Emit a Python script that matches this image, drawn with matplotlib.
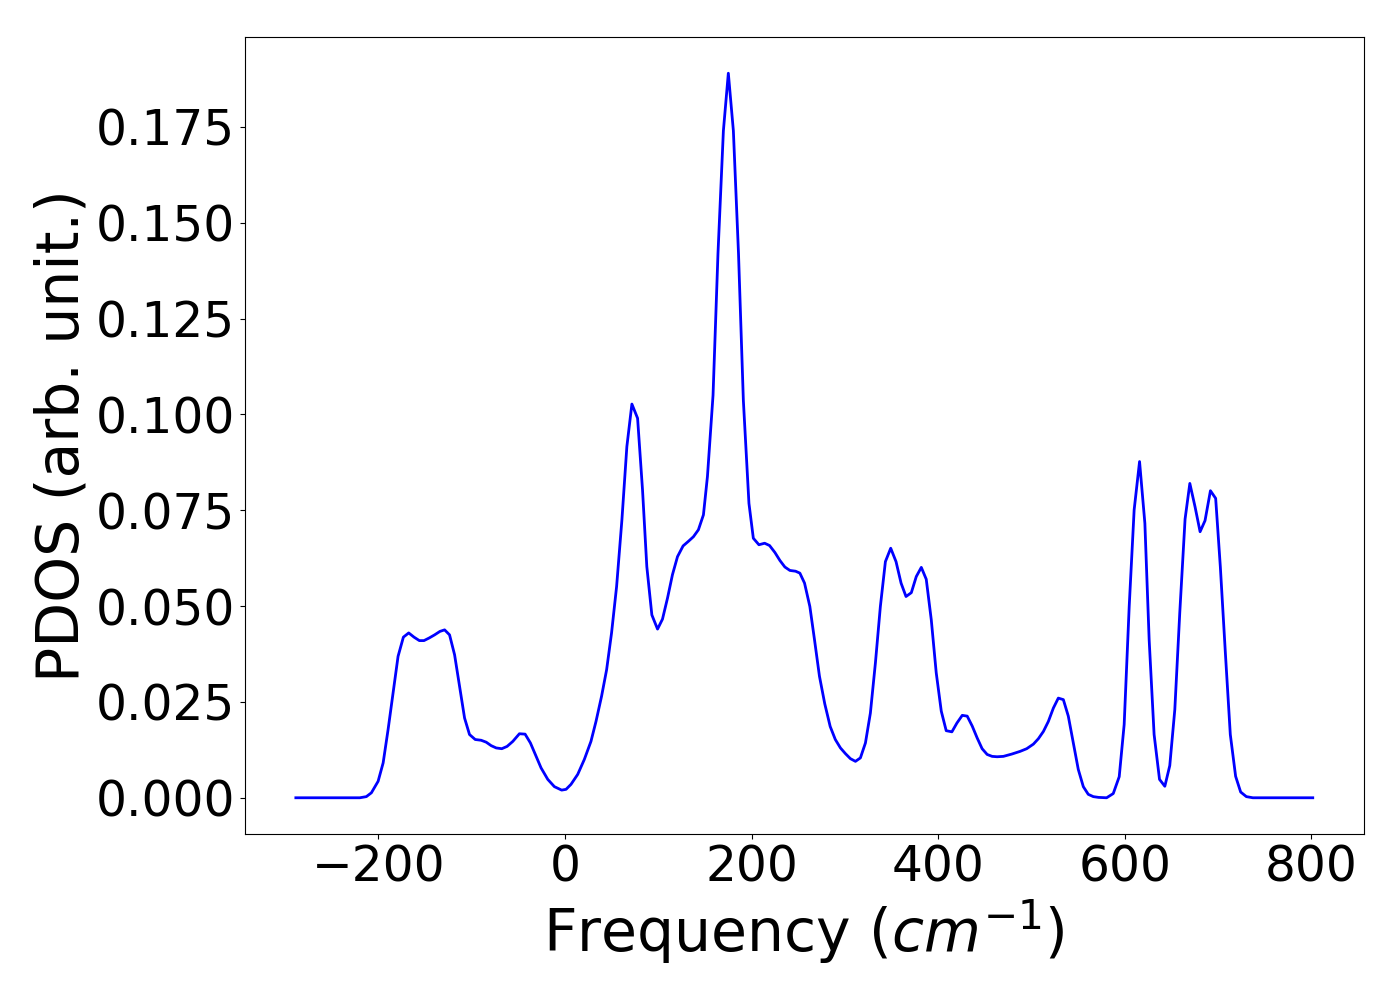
import matplotlib
matplotlib.use('Agg')
import matplotlib.pyplot as plt
from matplotlib.ticker import MultipleLocator, FormatStrFormatter

freq = [-288.6, -220.0, -213.0, -207.6, -200.4, -195.0, -189.7, -184.4, -179.0, -173.3,
        -167.6, -161.9, -156.2, -151.2, -145.5, -139.8, -134.1, -129.1, -123.8, -118.4,
        -113.1, -107.7, -102.4, -96.3, -89.9, -84.5, -79.2, -73.8, -67.8, -62.1,
        -56.0, -48.9, -42.8, -37.1, -31.0, -25.7, -18.5, -11.4, -3.6, 1.1,
        6.4, 13.6, 20.7, 27.8, 33.2, 39.2, 44.6, 49.9, 55.3, 61.0,
        66.3, 71.7, 77.8, 83.1, 87.7, 93.1, 99.2, 104.5, 109.9, 115.2,
        120.6, 126.6, 132.3, 137.7, 143.0, 148.4, 152.7, 158.7, 164.0, 169.8,
        175.1, 180.5, 186.0, 191.2, 197.2, 201.9, 207.9, 214.0, 219.3, 225.0,
        230.4, 235.7, 241.1, 247.2, 251.8, 256.8, 262.5, 267.5, 272.8, 278.5,
        284.3, 289.8, 295.3, 300.7, 306.0, 311.4, 316.7, 322.1, 327.4, 332.8,
        338.1, 343.5, 349.2, 354.9, 360.3, 365.6, 371.3, 376.6, 382.0, 387.3,
        392.7, 398.0, 403.4, 408.7, 414.8, 420.2, 425.9, 431.2, 436.6, 441.9,
        447.2, 452.6, 457.9, 463.3, 470.0, 479.0, 487.9, 495.0, 502.2, 507.5,
        512.9, 518.2, 523.6, 528.9, 534.3, 539.6, 545.0, 550.3, 555.7, 561.0,
        566.4, 572.0, 580.7, 587.8, 594.2, 599.5, 604.9, 610.2, 616.0, 621.7,
        626.3, 631.6, 637.4, 643.1, 648.4, 653.8, 659.1, 664.8, 669.9, 675.5,
        680.9, 686.2, 692.0, 697.6, 702.6, 708.0, 713.3, 719.0, 724.4, 730.5,
        737.5, 801.7]
pdos = [0.0, 0.0, 0.0003, 0.0013, 0.0043, 0.0091, 0.0178, 0.0273, 0.0369, 0.0419,
        0.0430, 0.0419, 0.0410, 0.0410, 0.0417, 0.0425, 0.0434, 0.0438, 0.0425, 0.0373,
        0.0291, 0.0208, 0.0165, 0.0152, 0.0150, 0.0145, 0.0136, 0.0130, 0.0128, 0.0134,
        0.0147, 0.0167, 0.0166, 0.0143, 0.0108, 0.0078, 0.0048, 0.0029, 0.0020, 0.0022,
        0.0035, 0.0061, 0.0100, 0.0147, 0.0199, 0.0265, 0.0334, 0.0430, 0.0551, 0.0725,
        0.0916, 0.1027, 0.0990, 0.0803, 0.0603, 0.0477, 0.0440, 0.0466, 0.0521, 0.0582,
        0.0629, 0.0657, 0.0669, 0.0681, 0.0699, 0.0738, 0.0838, 0.1050, 0.1420, 0.1740,
        0.1890, 0.1740, 0.1420, 0.1037, 0.0768, 0.0677, 0.0660, 0.0664, 0.0658, 0.0640,
        0.0619, 0.0602, 0.0593, 0.0591, 0.0586, 0.0560, 0.0499, 0.0412, 0.0317, 0.0245,
        0.0186, 0.0152, 0.0130, 0.0115, 0.0102, 0.0095, 0.0104, 0.0143, 0.0221, 0.0352,
        0.0499, 0.0616, 0.0651, 0.0616, 0.0560, 0.0525, 0.0535, 0.0577, 0.0601, 0.0570,
        0.0464, 0.0326, 0.0226, 0.0175, 0.0172, 0.0195, 0.0215, 0.0213, 0.0187, 0.0156,
        0.0128, 0.0113, 0.0108, 0.0107, 0.0108, 0.0114, 0.0121, 0.0128, 0.0140, 0.0154,
        0.0173, 0.0199, 0.0234, 0.0260, 0.0256, 0.0213, 0.0143, 0.0074, 0.0029, 0.0009,
        0.0003, 0.0001, 0.0, 0.0011, 0.0055, 0.0191, 0.0499, 0.0751, 0.0877, 0.0716,
        0.0412, 0.0165, 0.0048, 0.0030, 0.0084, 0.0230, 0.0482, 0.0727, 0.0820, 0.0759,
        0.0694, 0.0723, 0.0801, 0.0781, 0.0603, 0.0378, 0.0165, 0.0056, 0.0015, 0.0003,
        0.0, 0.0]

fig = plt.figure(figsize=(14, 10), dpi=100)
ax = fig.add_subplot(111)
fig.subplots_adjust(left=0.175, right=0.974, top=0.963, bottom=0.166)

ax.plot(freq, pdos, color='blue', linewidth=2)
ax.set_xlabel('Frequency ($cm^{-1}$)', fontsize=42)
ax.set_ylabel('PDOS (arb. unit.)', fontsize=42)
ax.tick_params(labelsize=35)
ax.set_xticks([-200, 0, 200, 400, 600, 800])
ax.yaxis.set_major_locator(MultipleLocator(0.025))
ax.yaxis.set_major_formatter(FormatStrFormatter('%.3f'))

plt.savefig('out.png', dpi=100)
plt.close()
